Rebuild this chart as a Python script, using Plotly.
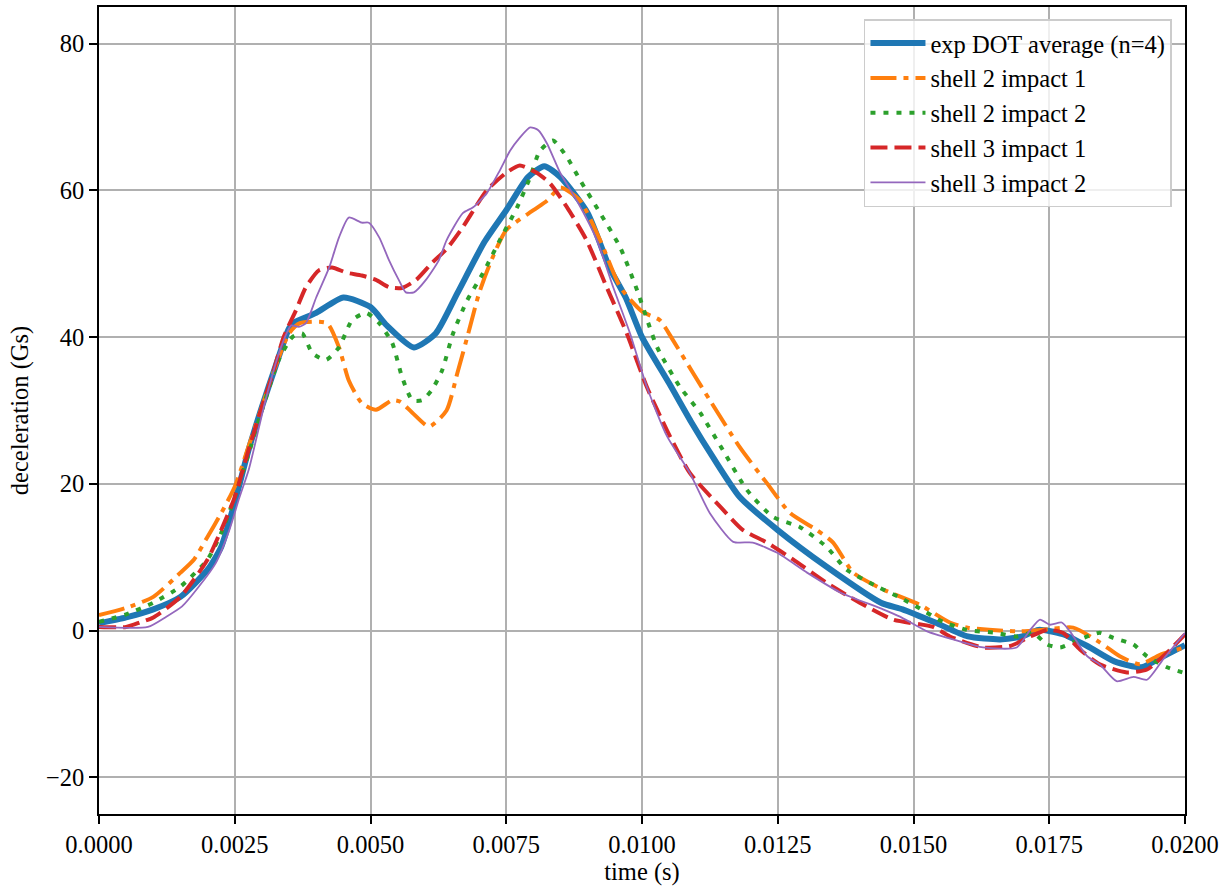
import plotly.graph_objects as go

# ---- data (time in s, deceleration in Gs) ----
avg_t = [0, 0.0005, 0.001, 0.0015, 0.002, 0.00225, 0.0025, 0.00275, 0.003, 0.00325, 0.0035, 0.0036,
         0.004, 0.0045, 0.005, 0.0053, 0.0058, 0.0062, 0.0066, 0.0071, 0.0075, 0.0079, 0.0082, 0.0085,
         0.009, 0.0094, 0.0097, 0.0100, 0.0105, 0.0109, 0.0113, 0.0118, 0.0125, 0.0134, 0.0144, 0.0148,
         0.0154, 0.016, 0.0166, 0.0170, 0.0173, 0.01775, 0.0182, 0.0187, 0.0192, 0.0196, 0.0200]
avg_v = [1.0, 1.8, 2.9, 4.6, 8.3, 11.4, 17.5, 24.5, 30.5, 36.0, 41.2, 42.0,
         43.3, 45.4, 44.1, 41.6, 38.6, 40.5, 46.0, 53.0, 57.3, 61.8, 63.3, 61.8,
         56.9, 49.5, 45.4, 40.0, 33.7, 28.5, 23.7, 18.2, 13.7, 8.7, 3.8, 2.9,
         1.1, -0.8, -1.2, -0.8, 0.1, -0.5, -2.1, -4.2, -5.0, -3.5, -2.0]

s2i1_t = [0, 0.0005, 0.001, 0.0015, 0.00175, 0.002, 0.00225, 0.0025, 0.00275, 0.003, 0.00325, 0.0035,
          0.0037, 0.0042, 0.00442, 0.0046, 0.00484, 0.0051, 0.0054, 0.00555, 0.00577, 0.00608, 0.0064,
          0.0066, 0.0068, 0.007, 0.0072, 0.0075, 0.008, 0.00825, 0.0085, 0.00886, 0.00923, 0.0096,
          0.0100, 0.01033, 0.01057, 0.01094, 0.01125, 0.0118, 0.0123, 0.01273, 0.01322, 0.01352,
          0.01389, 0.01444, 0.01512, 0.01567, 0.016, 0.0169, 0.01738, 0.01794, 0.01843, 0.0188,
          0.01917, 0.01954, 0.0200]
s2i1_v = [2.1, 3.1, 4.6, 7.9, 9.7, 12.8, 16.0, 19.6, 25.0, 30.5, 36.0, 40.5,
          41.9, 41.9, 38.6, 34.1, 31.0, 30.1, 31.4, 31.2, 29.7, 27.8, 30.0,
          35.1, 40.5, 46.0, 50.0, 54.6, 57.3, 58.6, 60.4, 58.6, 53.2, 46.8,
          43.5, 42.3, 39.6, 35.1, 31.4, 25.0, 20.1, 16.0, 13.7, 12.0,
          7.9, 5.6, 3.5, 1.1, 0.4, -0.1, 0.1, 0.4, -1.6, -3.5,
          -4.6, -3.3, -2.3]

s2i2_t = [0, 0.0005, 0.001, 0.0015, 0.002, 0.00225, 0.0025, 0.00275, 0.003, 0.00331, 0.00356, 0.00374,
          0.00393, 0.00418, 0.00442, 0.00466, 0.00492, 0.00516, 0.0054, 0.00558, 0.00577, 0.00595,
          0.00613, 0.00632, 0.00652, 0.00678, 0.00707, 0.00738, 0.0077, 0.00794, 0.00812, 0.00836,
          0.00862, 0.00886, 0.00923, 0.0096, 0.00991, 0.01028, 0.0107, 0.01107, 0.01149, 0.01193,
          0.01241, 0.01291, 0.0134, 0.01377, 0.01433, 0.01475, 0.01512, 0.01554, 0.01598, 0.0165,
          0.0169, 0.0172, 0.01746, 0.0177, 0.01794, 0.0182, 0.01843, 0.01868, 0.01905, 0.0193,
          0.01967, 0.0200]
s2i2_v = [1.2, 2.2, 3.8, 6.0, 9.7, 13.3, 18.2, 24.0, 30.0, 36.9, 40.0, 40.5,
          37.8, 36.9, 38.6, 42.3, 43.3, 41.9, 39.2, 34.6, 31.4, 31.4,
          32.8, 35.5, 40.5, 45.0, 48.7, 53.2, 57.7, 61.8, 65.4, 66.8,
          64.5, 61.4, 56.9, 52.2, 46.4, 38.6, 33.2, 29.7, 24.6, 19.2,
          15.5, 14.1, 11.4, 8.3, 6.0, 4.5, 3.0, 1.2, 0.1, -0.3,
          -0.8, -0.3, -1.9, -2.3, -1.6, -0.8, -0.3, -1.0, -1.9, -3.5,
          -5.0, -5.8]

s3i1_t = [0, 0.0005, 0.00075, 0.001, 0.0015, 0.002, 0.00225, 0.0025, 0.00275, 0.003, 0.0032, 0.0034,
          0.00363, 0.00381, 0.00405, 0.00429, 0.00455, 0.00484, 0.0051, 0.00534, 0.00558, 0.00584,
          0.00613, 0.0064, 0.0067, 0.00714, 0.0075, 0.00775, 0.00806, 0.0083, 0.00862, 0.00898,
          0.00935, 0.00972, 0.01009, 0.01046, 0.01088, 0.01144, 0.01186, 0.0123, 0.01278, 0.0134,
          0.01401, 0.01462, 0.01536, 0.01567, 0.01628, 0.01678, 0.01715, 0.01746, 0.01775, 0.01807,
          0.01843, 0.01893, 0.0193, 0.01967, 0.0200]
s3i1_v = [0.5, 0.5, 1.1, 1.8, 4.6, 9.7, 13.7, 18.2, 24.5, 30.5, 35.0, 40.0,
          43.7, 46.8, 49.1, 49.5, 48.8, 48.4, 47.8, 46.8, 46.7, 47.8,
          50.1, 52.0, 55.0, 60.0, 62.4, 63.4, 62.4, 61.0, 57.7, 53.2,
          46.8, 40.5, 33.2, 27.3, 21.5, 16.9, 13.7, 12.0, 9.7, 6.5,
          3.8, 1.5, 0.5, -0.8, -2.3, -2.1, -0.8, 0.1, -0.3, -2.6,
          -4.6, -5.7, -5.3, -3.0, -0.5]

s3i2_t = [0, 0.0009, 0.00124, 0.00153, 0.00184, 0.00215, 0.0024, 0.00258, 0.00276, 0.00308, 0.00335,
          0.00354, 0.00368, 0.00381, 0.004, 0.00424, 0.00442, 0.0046, 0.00484, 0.00497, 0.00516,
          0.00534, 0.00552, 0.00565, 0.0058, 0.00602, 0.00626, 0.0064, 0.0067, 0.00689, 0.00714,
          0.00738, 0.00757, 0.00775, 0.00794, 0.00809, 0.00825, 0.0085, 0.0088, 0.00917, 0.00947,
          0.00978, 0.01009, 0.01046, 0.01088, 0.01125, 0.01168, 0.01204, 0.01249, 0.01304, 0.01365,
          0.01444, 0.01475, 0.01525, 0.01573, 0.01628, 0.0169, 0.01715, 0.01733, 0.01751, 0.01773,
          0.01788, 0.0182, 0.01843, 0.01874, 0.01905, 0.0193, 0.0196, 0.0200]
s3i2_v = [0.5, 0.5, 1.9, 3.3, 6.0, 9.2, 13.7, 18.0, 22.0, 31.8, 38.6,
          41.6, 41.4, 41.9, 45.4, 49.5, 53.6, 56.3, 55.6, 55.6, 53.6,
          50.5, 47.8, 46.1, 46.1, 47.8, 50.5, 53.2, 56.9, 57.7, 59.6,
          62.7, 65.4, 67.2, 68.6, 68.2, 66.4, 62.3, 58.6, 53.2, 46.8,
          40.5, 33.2, 26.5, 21.5, 16.0, 12.1, 12.0, 10.6, 7.9, 5.2,
          2.9, 1.9, -0.1, -1.2, -2.3, -2.3, 0.1, 1.5, 0.8, 1.1,
          -0.1, -3.5, -4.6, -6.9, -6.3, -6.7, -3.9, -0.3]

names = ["exp DOT average (n=4)", "shell 2 impact 1", "shell 2 impact 2",
         "shell 3 impact 1", "shell 3 impact 2"]

x_ticks = [0, 0.0025, 0.005, 0.0075, 0.01, 0.0125, 0.015, 0.0175, 0.02]
x_ticktext = ["0.0000", "0.0025", "0.0050", "0.0075", "0.0100", "0.0125", "0.0150", "0.0175", "0.0200"]
y_ticks = [-20, 0, 20, 40, 60, 80]
y_ticktext = ["\u221220", "0", "20", "40", "60", "80"]

FONT = "'Liberation Serif', 'DejaVu Serif', serif"
FS = 24.5

fig = go.Figure()
series = [
    (avg_t, avg_v, dict(color="#1f77b4", width=6)),
    (s2i1_t, s2i1_v, dict(color="#ff7f0e", width=4, dash="26px,7px,5px,7px")),
    (s2i2_t, s2i2_v, dict(color="#2ca02c", width=4, dash="5px,8px")),
    (s3i1_t, s3i1_v, dict(color="#d62728", width=4, dash="17px,7px")),
    (s3i2_t, s3i2_v, dict(color="#9467bd", width=1.8)),
]
for (t, v, ln), nm in zip(series, names):
    ln = dict(ln, shape="spline", smoothing=0.6)
    fig.add_trace(go.Scatter(x=t, y=v, mode="lines", name=nm, line=ln))

axis_common = dict(showline=True, linecolor="black", linewidth=1.5, mirror=True,
                   ticks="outside", ticklen=8, tickwidth=1.5, tickcolor="black",
                   showgrid=True, gridcolor="#b0b0b0", gridwidth=1.5, zeroline=False,
                   tickfont=dict(family=FONT, size=FS, color="black"))

fig.update_layout(
    width=1231, height=890,
    margin=dict(l=99, r=46, t=5, b=76),
    paper_bgcolor="white", plot_bgcolor="white",
    font=dict(family=FONT, size=FS, color="black"),
    xaxis=dict(range=[0, 0.02], tickvals=x_ticks, ticktext=x_ticktext,
               title=dict(text="time (s)", font=dict(family=FONT, size=FS), standoff=2),
               **axis_common),
    yaxis=dict(range=[-25, 85], tickvals=y_ticks, ticktext=y_ticktext,
               title=dict(text="deceleration (Gs)", font=dict(family=FONT, size=FS), standoff=10),
               **axis_common),
    legend=dict(x=0.988, y=0.985, xanchor="right", yanchor="top",
                bgcolor="rgba(255,255,255,0.8)", bordercolor="#cccccc", borderwidth=1.5,
                font=dict(family=FONT, size=FS), tracegroupgap=0, itemwidth=55),
    showlegend=True,
)

fig.write_html("out.html")
